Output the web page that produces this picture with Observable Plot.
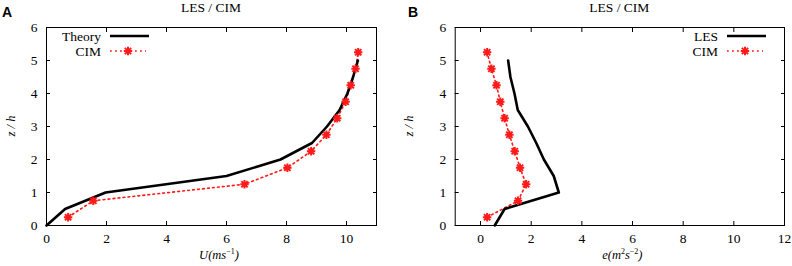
<!DOCTYPE html>
<html><head><meta charset="utf-8">
<script src="https://cdn.jsdelivr.net/npm/d3@7"></script>
<script src="https://cdn.jsdelivr.net/npm/@observablehq/plot@0.6"></script>
<style>
body{margin:0;background:#fff;}
#wrap{position:relative;width:792px;height:266px;overflow:hidden;}
.panel{position:absolute;top:0;}
</style></head><body><div id="wrap"></div>
<script>
// Panel A: velocity profile
const zTheory = [0, 0.5, 1, 1.5, 2, 2.5, 3, 3.5, 4, 4.5, 5];
const uTheory = [0, 0.62, 1.97, 6.0, 7.8, 8.85, 9.35, 9.77, 10.03, 10.22, 10.38];
const zCim = [0.25, 0.75, 1.25, 1.75, 2.25, 2.75, 3.25, 3.75, 4.25, 4.75, 5.25];
const uCim = [0.72, 1.56, 6.6, 8.03, 8.82, 9.33, 9.69, 9.97, 10.14, 10.3, 10.39];
// Panel B: TKE profile
const zLes = [0, 0.5, 1, 1.5, 2, 2.5, 3, 3.5, 4, 4.5, 5];
const eLes = [0.56, 0.95, 3.09, 2.89, 2.5, 2.2, 1.87, 1.47, 1.34, 1.18, 1.09];
const eCim = [0.26, 1.48, 1.8, 1.56, 1.35, 1.14, 0.95, 0.78, 0.63, 0.43, 0.26];
// ticks
const xTicksA = [0, 2, 4, 6, 8, 10];
const xTicksB = [0, 2, 4, 6, 8, 10, 12];
const yTicks = [0, 1, 2, 3, 4, 5, 6];
const title = "LES / CIM";
const yLabel = "z / h";

const SERIF = "Liberation Serif";

const asterisk = {
  draw(ctx, size) {
    const r = Math.sqrt(size / Math.PI);
    const d = r * 0.75;
    ctx.moveTo(-r, 0); ctx.lineTo(r, 0);
    ctx.moveTo(0, -r); ctx.lineTo(0, r);
    ctx.moveTo(-d, -d); ctx.lineTo(d, d);
    ctx.moveTo(-d, d); ctx.lineTo(d, -d);
  }
};

function panel(cfg) {
  const solid = cfg.xs.map((x, i) => ({x, z: cfg.zs[i]}));
  const dotted = cfg.xc.map((x, i) => ({x, z: cfg.zc[i]}));
  const txt = {fontFamily: SERIF, fontSize: 13.5, fontVariant: "normal", label: null};
  const chart = Plot.plot({
    width: 396, height: 266,
    marginLeft: cfg.ml, marginRight: cfg.mr, marginTop: 27, marginBottom: 41,
    style: {fontFamily: SERIF, fontSize: "13.5px", color: "#000", background: "#fff", overflow: "visible"},
    x: {domain: cfg.xdom, ticks: cfg.xticks},
    y: {domain: [0, 6], ticks: yTicks},
    marks: [
      Plot.frame({stroke: "#000", strokeWidth: 1}),
      Plot.axisX(cfg.xticks, {anchor: "bottom", tickSize: 0, tickPadding: 8, ...txt}),
      Plot.axisX(cfg.xticks, {anchor: "bottom", tickSize: -4, tickFormat: () => "", label: null}),
      Plot.axisX(cfg.xticks, {anchor: "top", tickSize: -4, tickFormat: () => "", label: null}),
      Plot.axisY(yTicks, {anchor: "left", tickSize: 0, tickPadding: 9, ...txt}),
      Plot.axisY(yTicks, {anchor: "left", tickSize: -4, tickFormat: () => "", label: null}),
      Plot.axisY(yTicks, {anchor: "right", tickSize: -4, tickFormat: () => "", label: null}),
      Plot.line(dotted, {x: "x", y: "z", stroke: "#ff1a1a", strokeWidth: 1.6, strokeDasharray: "1.8,3.2"}),
      Plot.line(solid, {x: "x", y: "z", stroke: "#000", strokeWidth: 2.6}),
      Plot.dot(dotted, {x: "x", y: "z", symbol: asterisk, r: 4.2, stroke: "#ff1a1a", strokeWidth: 2, fill: "none"})
    ]
  });
  const svg = d3.select(chart);
  const fx0 = cfg.ml, fx1 = 396 - cfg.mr, cx = (fx0 + fx1) / 2;
  // panel letter
  svg.append("text").attr("x", cfg.letterX).attr("y", 17).attr("font-family", "Liberation Sans")
    .attr("font-weight", "bold").attr("font-size", 14).text(cfg.letter);
  // title
  svg.append("text").attr("x", cx).attr("y", 12).attr("text-anchor", "middle").attr("font-family", SERIF)
    .attr("font-size", 13.5).text(title);
  // y label
  svg.append("text").attr("transform", `translate(${cfg.ylx},126) rotate(-90)`).attr("text-anchor", "middle")
    .attr("font-family", SERIF).attr("font-size", 12.5).attr("font-style", "italic").text(yLabel);
  // x label
  const xl = svg.append("text").attr("x", cx + cfg.xlOff).attr("y", 259).attr("text-anchor", "middle")
    .attr("font-family", SERIF).attr("font-size", 12.5);
  cfg.xlab.forEach(([t, sup]) => {
    const ts = xl.append("tspan").text(t);
    if (sup) ts.attr("font-size", 8).attr("dy", -5); else ts.attr("font-style", "italic");
    if (!sup && xl.node().childNodes.length > 1) ts.attr("dy", 5);
  });
  // legend
  const lg = svg.append("g").attr("font-size", 13.5).attr("font-family", SERIF);
  const tx = cfg.legX, l0 = tx + 9, l1 = tx + 48;
  lg.append("text").attr("x", tx).attr("y", 40.5).attr("text-anchor", "end").text(cfg.solidName);
  lg.append("line").attr("x1", l0).attr("x2", l1).attr("y1", 36).attr("y2", 36).attr("stroke", "#000").attr("stroke-width", 2.6);
  lg.append("text").attr("x", tx).attr("y", 55.5).attr("text-anchor", "end").text("CIM");
  lg.append("line").attr("x1", l0).attr("x2", l1 - 3).attr("y1", 51).attr("y2", 51).attr("stroke", "#ff1a1a")
    .attr("stroke-width", 1.6).attr("stroke-dasharray", "1.8,3.2");
  const p = d3.path(); asterisk.draw(p, Math.PI * 4.2 * 4.2);
  lg.append("path").attr("d", p.toString()).attr("transform", `translate(${(l0 + l1 - 3) / 2},51)`)
    .attr("stroke", "#ff1a1a").attr("stroke-width", 2).attr("fill", "none");
  chart.classList.add("panel");
  chart.style.left = cfg.left + "px";
  return chart;
}

const wrap = document.getElementById("wrap");
wrap.appendChild(panel({
  left: 0, ml: 46, mr: 20, xdom: [0, 11], xticks: xTicksA,
  xs: uTheory, zs: zTheory, xc: uCim, zc: zCim,
  letter: "A", letterX: 7, ylx: 15, xlOff: 8, legX: 101, solidName: "Theory",
  xlab: [["U(ms"], ["−1", true], [")"]]
}));
wrap.appendChild(panel({
  left: 396, ml: 58.7, mr: 8, xdom: [-1, 12], xticks: xTicksB,
  xs: eLes, zs: zLes, xc: eCim, zc: zCim,
  letter: "B", letterX: 17, ylx: 17, xlOff: 3, legX: 322, solidName: "LES",
  xlab: [["e(m"], ["2", true], ["s"], ["−2", true], [")"]]
}));
</script></body></html>
